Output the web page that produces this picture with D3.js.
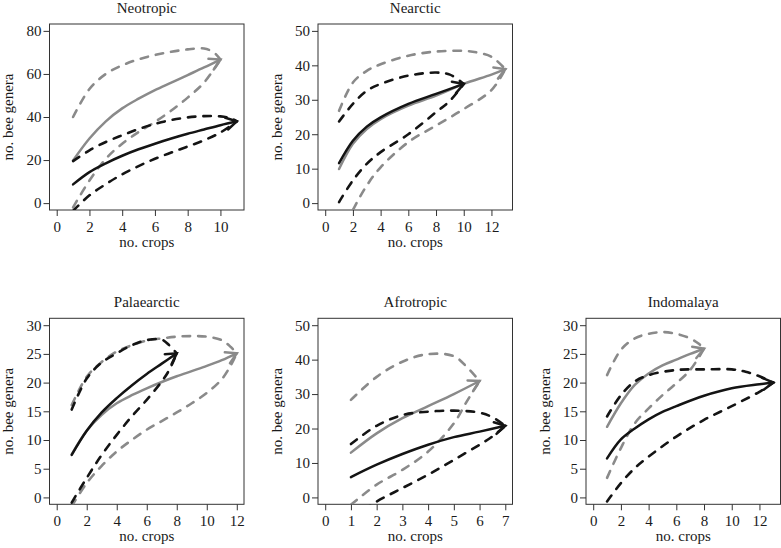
<!DOCTYPE html>
<html><head><meta charset="utf-8">
<script src="https://cdn.jsdelivr.net/npm/d3@7"></script>
<style>
body{margin:0;background:#fff}
svg{display:block}
svg text{font-family:"Liberation Serif","Times New Roman",Times,serif !important;fill:#1a1a1a}
</style>
</head><body>
<svg id="chart" width="781" height="548"></svg>
<script>
// ---------- data ----------
const panelTitles = ["Neotropic", "Nearctic", "Palaearctic", "Afrotropic", "Indomalaya"];
const yLimits = [80, 50, 30, 50, 30];
const xLimits = [11, 13, 12, 7, 13];
const yTicks = [[0,20,40,60,80],[0,10,20,30,40,50],[0,5,10,15,20,25,30],[0,10,20,30,40,50],[0,5,10,15,20,25,30]];
const xTicks = [[0,2,4,6,8,10],[0,2,4,6,8,10,12],[0,2,4,6,8,10,12],[0,1,2,3,4,5,6,7],[0,2,4,6,8,10,12]];
const xLabel = "no. crops";
const yLabel = "no. bee genera";

// Neotropic
const neoGrayMean  = [[1,19.8],[2,30],[3,38],[4,44],[5,48.5],[6,52.5],[7,56],[8,59.5],[9,63],[10,66.7]];
const neoGrayUpper = [[1,40],[2,53],[3,60],[4,64],[5,66.8],[6,68.8],[7,70.3],[8,71.4],[9,71.8],[9.6,70],[10,66.7]];
const neoGrayLower = [[1,-2],[2,10.5],[3,20.6],[4,27.6],[5,33],[6,37.7],[7,43],[8,49],[9,56],[10,66.7]];
const neoBlackMean  = [[1,8.7],[2,14.4],[3,18.5],[4,22],[5,25],[6,27.6],[7,30],[8,32.2],[9,34.2],[10,36.2],[11,38]];
const neoBlackUpper = [[1,19.5],[2,24.5],[3,28.4],[4,31.5],[5,34.4],[6,36.8],[7,38.6],[8,39.8],[9,40.4],[10,40.3],[10.6,39.5],[11,38]];
const neoBlackLower = [[1,-3.6],[2,3.6],[3,8.8],[4,13.4],[5,17.2],[6,20.6],[7,23.5],[8,26.3],[9,29.2],[10,32.8],[11,38]];

// Nearctic
const nearGrayMean  = [[1,9.9],[2,17.2],[3,21.5],[4,24.4],[6,28.3],[8,31.2],[10,34.6],[12,37.3],[13,38.9]];
const nearGrayUpper = [[1,26.8],[2,35],[3,38.4],[4,40.3],[6,42.8],[8,44],[10,44.2],[11,43.7],[12,42.5],[13,38.9]];
const nearGrayLower = [[1,-10],[2,-2],[3,5.1],[4,10.4],[6,17.7],[8,22.5],[10,27.3],[12,32.8],[13,38.9]];
const nearBlackMean  = [[1,11.6],[2,18.1],[3,22.2],[4,24.9],[6,28.8],[8,31.7],[10,34.6]];
const nearBlackUpper = [[1,23.7],[2,28.8],[3,32.6],[4,34.6],[6,37],[8,37.9],[9,37.3],[10,34.6]];
const nearBlackLower = [[1,0.3],[2,6.6],[3,11.4],[4,14.8],[6,20],[8,26.4],[9,29.7],[10,34.6]];

// Palaearctic
const palGrayMean  = [[1,7.5],[2,11.6],[3,14.4],[4,16.4],[5,17.8],[6,19],[7,20.1],[8,21.1],[9,22],[10,22.9],[11,23.9],[12,25.1]];
const palGrayUpper = [[1,16.1],[2,21],[3,23.6],[4,25.4],[5,26.5],[6,27.3],[7,27.7],[8,28],[9,28.1],[10,28],[11,27.4],[11.6,26.2],[12,25.1]];
const palGrayLower = [[1,-1.5],[2,2.5],[3,5.5],[4,8],[5,10],[6,11.8],[7,13.3],[8,14.8],[9,16.4],[10,18.2],[11,20.6],[11.6,23],[12,25.1]];
const palBlackMean  = [[1,7.4],[2,11.6],[3,14.8],[4,17.3],[5,19.5],[6,21.5],[7,23.3],[8,25.1]];
const palBlackUpper = [[1,15.3],[2,20.7],[3,23.5],[4,25.1],[5,26.5],[6,27.4],[7,27.5],[7.5,26.5],[8,25.1]];
const palBlackLower = [[1,-0.9],[2,3.4],[3,7.4],[4,10.9],[5,14.1],[6,17],[7,20.2],[7.5,22.2],[8,25.1]];

// Afrotropic
const afrGrayMean  = [[1,13],[2,18.6],[3,23],[4,26.5],[5,30],[6,33.8]];
const afrGrayUpper = [[1,28.3],[2,35],[3,39.4],[4,41.6],[5,41],[5.5,37.9],[6,33.8]];
const afrGrayLower = [[1,-2.1],[2,3.7],[3,8],[4,13.3],[5,21.5],[5.5,27.8],[6,33.8]];
const afrBlackMean  = [[1,5.9],[2,9.5],[3,12.6],[4,15.3],[5,17.5],[6,19.1],[7,20.8]];
const afrBlackUpper = [[1,15.5],[2,20.8],[3,23.9],[4,24.9],[5,25.2],[6,24.6],[6.5,23.3],[7,20.8]];
const afrBlackLower = [[1,-6],[2,-1.2],[3,2.7],[4,6.6],[5,10.9],[6,15.3],[6.5,17.7],[7,20.8]];

// Indomalaya
const indGrayMean  = [[1,12.3],[2,16.4],[3,19.6],[4,21.6],[5,23],[6,24],[7,25],[8,25.9]];
const indGrayUpper = [[1,21.3],[2,25.7],[3,27.7],[4,28.5],[5,28.8],[6,28.5],[7,27.7],[7.6,26.8],[8,25.9]];
const indGrayLower = [[1,3.4],[2,8.6],[3,12.9],[4,15.5],[5,17.8],[6,19.9],[7,22.2],[8,25.9]];
const indBlackMean  = [[1,6.8],[2,10.1],[3,12],[4,13.6],[5,14.9],[6,15.9],[8,17.7],[10,19],[12,19.7],[13,20]];
const indBlackUpper = [[1,14.1],[2,17.8],[3,20.2],[4,21.3],[6,22.2],[8,22.3],[10,22.3],[11,21.9],[12,21.1],[13,20]];
const indBlackLower = [[1,-0.7],[2,2.5],[3,5.1],[4,7.1],[6,10.6],[8,13.5],[10,15.9],[12,18.4],[13,20]];

// ---------- layout / style ----------
const boxLeft = [49.5, 318, 49.5, 318, 586];
const boxTop = [24, 24, 318.3, 318.3, 318.3];
const boxW = 194.5, boxH = 186;
const GRAY = "#8a8a8a", BLACK = "#141414";
const FS = "15px";
const FF = '"Liberation Serif","Times New Roman",Times,serif';

const panels = [
  {gray:[neoGrayMean,neoGrayUpper,neoGrayLower], black:[neoBlackMean,neoBlackUpper,neoBlackLower]},
  {gray:[nearGrayMean,nearGrayUpper,nearGrayLower], black:[nearBlackMean,nearBlackUpper,nearBlackLower]},
  {gray:[palGrayMean,palGrayUpper,palGrayLower], black:[palBlackMean,palBlackUpper,palBlackLower]},
  {gray:[afrGrayMean,afrGrayUpper,afrGrayLower], black:[afrBlackMean,afrBlackUpper,afrBlackLower]},
  {gray:[indGrayMean,indGrayUpper,indGrayLower], black:[indBlackMean,indBlackUpper,indBlackLower]}
];

const svg = d3.select("#chart").attr("font-family", FF);
const defs = svg.append("defs");

function styleText(sel) {
  sel.attr("font-family", FF).attr("font-size", FS).style("font-size", FS).style("font-family", FF).attr("fill", "#1a1a1a");
}

panels.forEach((p, i) => {
  const L = boxLeft[i], T = boxTop[i];
  const xm = xLimits[i], ym = yLimits[i];
  const x = d3.scaleLinear().domain([-0.04*xm, 1.04*xm]).range([L, L+boxW]);
  const y = d3.scaleLinear().domain([-0.04*ym, 1.04*ym]).range([T+boxH, T]);
  const g = svg.append("g");

  defs.append("clipPath").attr("id", "clip"+i)
    .append("rect").attr("x", L).attr("y", T).attr("width", boxW).attr("height", boxH);

  // axes
  const ya = g.append("g").attr("transform", `translate(${L},0)`)
    .call(d3.axisLeft(y).tickValues(yTicks[i]).tickSize(6).tickPadding(2).tickSizeOuter(0));
  const xa = g.append("g").attr("transform", `translate(0,${T+boxH})`)
    .call(d3.axisBottom(x).tickValues(xTicks[i]).tickSize(6).tickPadding(5).tickSizeOuter(0));
  [ya, xa].forEach(a => {
    a.attr("font-family", FF).attr("font-size", FS);
    a.select(".domain").remove();
    a.selectAll("line").attr("stroke", "#333");
    styleText(a.selectAll("text"));
  });

  // box
  g.append("rect").attr("x", L).attr("y", T).attr("width", boxW).attr("height", boxH)
    .attr("fill", "none").attr("stroke", "#333").attr("stroke-width", 1);

  // labels
  styleText(g.append("text").attr("x", L + boxW/2).attr("y", T - 11).attr("text-anchor", "middle").text(panelTitles[i]));
  styleText(g.append("text").attr("x", L + boxW/2).attr("y", T + boxH + 36.5).attr("text-anchor", "middle").text(xLabel));
  styleText(g.append("text").attr("transform", `translate(${L-36.5},${T+boxH/2}) rotate(-90)`)
    .attr("text-anchor", "middle").text(yLabel));

  // series
  const line = d3.line().x(d => x(d[0])).y(d => y(d[1])).curve(d3.curveCatmullRom.alpha(0.5));
  const plot = g.append("g").attr("clip-path", `url(#clip${i})`);
  [[p.gray, GRAY], [p.black, BLACK]].forEach(([set, col]) => {
    const [mean, upper, lower] = set;
    [upper, lower].forEach(s => {
      plot.append("path").attr("d", line(s)).attr("fill", "none").attr("stroke", col)
        .attr("stroke-width", 2.6).attr("stroke-dasharray", "7.5,8").attr("stroke-linecap", "round");
    });
    const mp = plot.append("path").attr("d", line(mean)).attr("fill", "none").attr("stroke", col)
      .attr("stroke-width", 2.5).attr("stroke-linecap", "round");
    // arrowhead
    const node = mp.node();
    const len = node.getTotalLength();
    const tip = node.getPointAtLength(len);
    const prev = node.getPointAtLength(Math.max(0, len - 4));
    const ang = Math.atan2(tip.y - prev.y, tip.x - prev.x);
    const aLen = 12, spread = Math.PI / 6;
    const w1 = [tip.x - aLen*Math.cos(ang - spread), tip.y - aLen*Math.sin(ang - spread)];
    const w2 = [tip.x - aLen*Math.cos(ang + spread), tip.y - aLen*Math.sin(ang + spread)];
    g.append("path").attr("d", `M${w1[0]},${w1[1]}L${tip.x},${tip.y}L${w2[0]},${w2[1]}`)
      .attr("fill", "none").attr("stroke", col).attr("stroke-width", 2.5)
      .attr("stroke-linecap", "round").attr("stroke-linejoin", "miter");
  });
});
</script>
</body></html>
